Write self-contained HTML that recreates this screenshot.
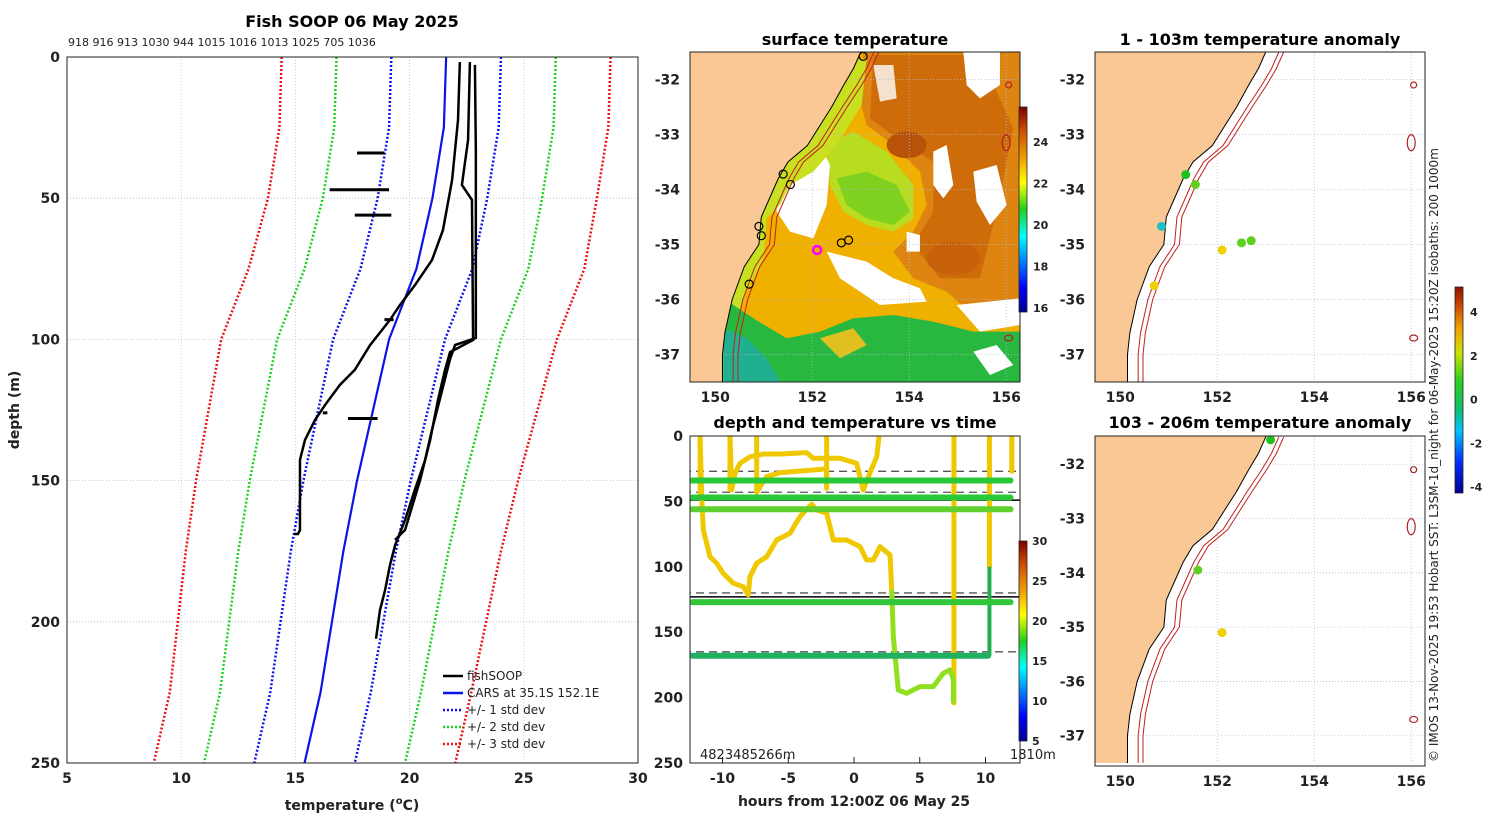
<!DOCTYPE html>
<html><head><meta charset="utf-8">
<style>
html,body{margin:0;padding:0;background:#fff;}
svg{display:block;font-family:"DejaVu Sans","Liberation Sans",sans-serif;}
.t{font-weight:bold;font-size:16px;}
.k{font-weight:bold;font-size:14px;fill:#222;}
.s{font-size:11px;fill:#222;}
</style></head>
<body>
<svg id="fig" width="1500" height="820" viewBox="0 0 1500 820" xmlns="http://www.w3.org/2000/svg">
<defs>
<linearGradient id="jet" x1="0" y1="1" x2="0" y2="0">
<stop offset="0" stop-color="#00008f"/><stop offset="0.12" stop-color="#0000ff"/><stop offset="0.37" stop-color="#00ffff"/><stop offset="0.5" stop-color="#20d020"/><stop offset="0.63" stop-color="#ffff00"/><stop offset="0.75" stop-color="#f0a000"/><stop offset="0.88" stop-color="#d05000"/><stop offset="1" stop-color="#800000"/>
</linearGradient>
<linearGradient id="jet2" x1="0" y1="1" x2="0" y2="0">
<stop offset="0" stop-color="#00008f"/><stop offset="0.15" stop-color="#0030ff"/><stop offset="0.3" stop-color="#00c0ff"/><stop offset="0.42" stop-color="#10c060"/><stop offset="0.55" stop-color="#30d020"/><stop offset="0.68" stop-color="#d0e000"/><stop offset="0.8" stop-color="#f0a000"/><stop offset="0.92" stop-color="#c84000"/><stop offset="1" stop-color="#901000"/>
</linearGradient>
<clipPath id="c1"><rect x="67" y="57" width="571" height="706"/></clipPath>
<clipPath id="c2"><rect x="690" y="52" width="330" height="330"/></clipPath>
<clipPath id="c3"><rect x="690" y="436" width="330" height="327"/></clipPath>
<clipPath id="c4"><rect x="1095" y="52" width="330" height="330"/></clipPath>
<clipPath id="c5"><rect x="1095" y="436" width="330" height="327"/></clipPath>
</defs>

<text class="t" x="352" y="27" text-anchor="middle">Fish SOOP 06 May 2025</text>
<text class="s" x="68" y="46">918 916 913 1030 944 1015 1016 1013 1025 705 1036</text>
<g id="p1grid"></g>
<g id="p1" clip-path="url(#c1)"></g>
<rect x="67" y="57" width="571" height="706" fill="none" stroke="#222"/>
<g id="p1ticks"></g>
<text class="k" x="352" y="810" text-anchor="middle" font-size="16">temperature (<tspan font-size="10" dy="-6">o</tspan><tspan dy="6">C)</tspan></text>
<text class="k" x="19" y="410" text-anchor="middle" transform="rotate(-90 19 410)" font-size="16">depth (m)</text>
<g id="legend"></g>

<text class="t" x="855" y="45" text-anchor="middle">surface temperature</text>
<g clip-path="url(#c2)">
<rect x="690" y="52" width="330" height="330" fill="#f0b000"/>
<g transform="translate(680,45) scale(0.3333)">
<path d="M550,20 L1020,20 L1020,830 L900,830 L800,740 L700,700 L640,620 L700,560 L740,480 L720,380 L640,300 L560,240 L540,170 Z" fill="#dd8510"/>
<path d="M580,30 L900,30 L1000,250 L950,500 L900,700 L780,700 L700,600 L760,500 L760,350 L650,280 L570,220 Z" fill="#cf6c0a"/>
<ellipse cx="680" cy="300" rx="60" ry="40" fill="#b85208"/>
<ellipse cx="820" cy="640" rx="80" ry="50" fill="#c8620a"/>
<path d="M440,300 L520,260 L620,320 L700,420 L700,520 L640,560 L560,540 L490,500 L450,420 Z" fill="#b8dc20"/>
<path d="M470,400 L560,380 L650,420 L690,500 L640,540 L560,520 L500,480 Z" fill="#80d020"/>
<path d="M300,360 L420,300 L450,360 L440,480 L400,580 L330,560 L290,500 Z" fill="#fff"/>
<path d="M440,620 L560,650 L640,700 L720,730 L740,770 L600,780 L480,700 Z" fill="#fff"/>
<path d="M680,560 L720,570 L720,620 L680,620 Z" fill="#fff"/>
<path d="M850,20 L960,20 L960,120 L900,160 L860,120 Z" fill="#fff"/>
<path d="M760,320 L800,300 L820,420 L790,460 L760,420 Z" fill="#fff"/>
<path d="M880,380 L950,360 L980,480 L930,540 L890,470 Z" fill="#fff"/>
<path d="M580,60 L640,60 L650,160 L600,170 Z" fill="#fff" opacity="0.8"/>
<path d="M830,780 L1020,760 L1020,840 L900,860 Z" fill="#fff"/>
<path d="M420,60 L560,40 L545,180 L470,300 L400,380 L330,420 L300,480 L260,520 L250,640 L200,740 L150,870 L130,1010 L60,1010 L60,40 Z" fill="#c8e020"/>
<path d="M130,760 L220,820 L320,880 L420,860 L520,820 L640,810 L760,830 L880,860 L1020,860 L1020,1010 L130,1010 Z" fill="#28b840"/>
<path d="M130,850 L200,880 L260,940 L300,1010 L130,1010 Z" fill="#20b090"/>
<path d="M420,880 L520,850 L560,900 L480,940 Z" fill="#e0c020"/>
<path d="M880,920 L950,900 L1000,960 L930,990 Z" fill="#fff"/>
</g>
</g>
<g id="map2"></g>
<rect x="690" y="52" width="330" height="330" fill="none" stroke="#222"/>
<rect x="1019" y="107" width="8" height="205" fill="url(#jet)" stroke="#222" stroke-width="0.8"/>
<g id="cb1"></g>

<text class="t" x="855" y="428" text-anchor="middle">depth and temperature vs time</text>
<g id="p3" clip-path="url(#c3)"></g>
<rect x="690" y="436" width="330" height="327" fill="none" stroke="#222"/>
<g id="p3ticks"></g>
<text x="700" y="759" font-size="13" fill="#222">4823485266m</text>
<text x="1010" y="759" font-size="13" fill="#222">1810m</text>
<text class="k" x="854" y="806" text-anchor="middle" font-size="16">hours from 12:00Z 06 May 25</text>
<rect x="1019" y="541" width="8" height="200" fill="url(#jet)" stroke="#222" stroke-width="0.8"/>
<g id="cb3"></g>

<text class="t" x="1260" y="45" text-anchor="middle">1 - 103m temperature anomaly</text>
<text class="t" x="1260" y="428" text-anchor="middle">103 - 206m temperature anomaly</text>
<g id="map4"></g><g id="map5"></g>
<rect x="1455" y="287" width="8" height="206" fill="url(#jet2)" stroke="#222" stroke-width="0.8"/>
<g id="cb4"></g>
<text x="1438" y="762" font-size="12" fill="#222" transform="rotate(-90 1438 762)">© IMOS 13-Nov-2025 19:53 Hobart SST: L3SM-1d_night for 06-May-2025 15:20Z isobaths: 200  1000m</text>
</svg>

<script>
const cdDepths=[0,25,50,75,100,125,150,175,200,225,250];
const carsMean=[21.6,21.5,21.0,20.3,19.1,18.4,17.7,17.1,16.6,16.1,15.4];
const carsStd=[2.4,2.4,2.4,2.45,2.45,2.4,2.35,2.3,2.25,2.2,2.2];
const profAtemp=[22.86,22.9,22.9,21.99,21.77,21.55,21.33,20.98,20.67,20.24,19.8,19.36,19.14,18.92,18.7,18.53];
const profAdepth=[2.8,32.9,99.5,102,107,114,121,132,143,153,164,173,180,189,196,206];
const profBtemp=[22.2,22.12,21.86,21.46,20.98,20.24,19.58,19.14,18.27,17.6,16.95,16.3,15.86,15.42,15.2,15.2,15.11,14.94];
const profBdepth=[1.8,22.3,43.6,61.3,71.9,80.7,87.8,93.1,102,110.8,116.1,123.2,128.5,135.6,142.7,167.5,168.9,168.9];
const profCtemp=[22.64,22.56,22.29,22.73,22.78,21.77,21.55,21.24,20.9,20.46,19.8,19.36];
const profCdepth=[1.8,29.4,45.3,50.6,100.2,104.5,110.8,121.5,135.6,149.8,167.5,171];
const segDepth=[34,47,56,93,126,128];
const segT0=[17.7,16.5,17.6,18.9,16.2,17.3];
const segT1=[18.9,19.1,19.2,19.3,16.4,18.6];
const tTicks=[5,10,15,20,25,30];
const dTicks=[0,50,100,150,200,250];

const NS='http://www.w3.org/2000/svg';
function mk(tag,attrs,parent){const e=document.createElementNS(NS,tag);for(const k in attrs)e.setAttribute(k,attrs[k]);parent.appendChild(e);return e;}
const X1=t=>67+(t-5)*(571/25), Y1=d=>57+d*(706/250);
const g1=document.getElementById('p1'), g1g=document.getElementById('p1grid'), g1t=document.getElementById('p1ticks');
tTicks.forEach(t=>{
  const l=mk('line',{x1:X1(t),x2:X1(t),y1:57,y2:763,stroke:'#b0bcd8','stroke-dasharray':'1,2','stroke-width':0.8},g1g);
  
  
  const tx=mk('text',{x:X1(t),y:783,'text-anchor':'middle',class:'k'},g1t);tx.textContent=t;
  
  
});
dTicks.forEach(d=>{
  const l=mk('line',{x1:67,x2:638,y1:Y1(d),y2:Y1(d),stroke:'#b0bcd8','stroke-dasharray':'1,2','stroke-width':0.8},g1g);
  
  
  const tx=mk('text',{x:60,y:Y1(d)+5,'text-anchor':'end',class:'k'},g1t);tx.textContent=d;
  
  
});
function poly(ts,ds,X,Y,attrs,parent,name){
  const p=mk('polyline',Object.assign({points:ts.map((t,i)=>X(t)+','+Y(ds[i])).join(' '),fill:'none'},attrs),parent);
  
  
  return p;
}
const stdCols={1:'#1010ee',2:'#20d020',3:'#ee1010'};
[3,2,1].forEach(k=>{
  [-1,1].forEach(s=>{
    poly(carsMean.map((m,i)=>m+s*k*carsStd[i]),cdDepths,X1,Y1,{stroke:stdCols[k],'stroke-width':2.5,'stroke-dasharray':'2,2'},g1,'std-dev-'+k+(s<0?'-lower':'-upper'));
  });
});
poly(carsMean,cdDepths,X1,Y1,{stroke:'#0a14e6','stroke-width':2.2},g1,'cars-mean-line');
poly(profAtemp,profAdepth,X1,Y1,{stroke:'#000','stroke-width':2.5},g1,'fishsoop-profile-a');
poly(profBtemp,profBdepth,X1,Y1,{stroke:'#000','stroke-width':2.5},g1,'fishsoop-profile-b');
poly(profCtemp,profCdepth,X1,Y1,{stroke:'#000','stroke-width':2.5},g1,'fishsoop-profile-c');
segDepth.forEach((d,i)=>{poly([segT0[i],segT1[i]],[d,d],X1,Y1,{stroke:'#000','stroke-width':3},g1,'fishsoop-short-profile');});
const leg=document.getElementById('legend');
const legItems=[['fishSOOP','#000',''],['CARS at 35.1S 152.1E','#0a14e6',''],['+/- 1 std dev','#1010ee','2,2'],['+/- 2 std dev','#20d020','2,2'],['+/- 3 std dev','#ee1010','2,2']];
legItems.forEach((it,i)=>{
  const y=676+i*17;
  const l=mk('line',{x1:443,x2:463,y1:y,y2:y,stroke:it[1],'stroke-width':2.5},leg);
  if(it[2])l.setAttribute('stroke-dasharray',it[2]);
  
  
  const t=mk('text',{x:467,y:y+4,'font-size':12,fill:'#222'},leg);t.textContent=it[0];
  
  
});

const hTicks=[-10,-5,0,5,10];
const X3=t=>854+t*13.15, Y3=d=>436+d*1.308;
const levDepth=[34,47,56,127,168];
const levStart=[-12.3,-12.3,-12.3,-12.3,-12.3];
const levEnd=[11.9,11.9,11.9,11.9,10.2];
const levColor=['#28c838','#28c838','#60d030','#30c838','#20b060'];
const dashDepth=[27,43,120,165];
const solidDepth=[49,123];
const tr1t=[-9.43,-9.3,-9.05,-8.67,-7.9,-6.9,-5.6,-3.6,-3.1,-2.08,-1.06,0.2,0.7,1.2,1.73,1.9];
const tr1d=[0.5,41.3,28.5,20.9,15.8,13.8,13.8,12.7,17,17,17,20.9,41.3,28.5,15.8,0.5];
const tr2t=[-11.71,-11.58,-11.46,-10.95,-10.44,-9.94,-9.18,-8.42,-8.04,-7.91,-7.4,-6.64,-5.88,-4.87,-4.11,-3.22,-2.85,-2.08,-1.57,-0.56,0.46,0.96,1.47,1.98,2.74,2.87];
const tr2d=[0.5,46.4,71.8,92.3,97.3,105,112.6,115.2,121.5,107.6,97.3,92.3,79.5,74.4,61.7,52,56.6,59.1,79.5,79.5,84.6,94.8,94.8,84.6,91,117.7];
const tr3t=[2.87,2.99,3.37,4.0,5.02,6.03,6.79,7.3,7.56,7.56];
const tr3d=[117.7,153.4,194.2,196.7,191.6,191.6,181.4,178.8,186.5,204.3];
const tr4t=[-7.4,-7.4,-6.64,-5.6,-3.1,-2.08,-2.08];
const tr4d=[0.5,43,31,28,26,25,39];
const vertT=[-11.7,-9.43,-2.08,7.6,10.3,12.0];
const vertD0=[0,0,0,0,0,0];
const vertD1=[46,41,40,204,100,27];
const g3=document.getElementById('p3'), g3t=document.getElementById('p3ticks');
hTicks.forEach(t=>{
  const l=mk('line',{x1:X3(t),x2:X3(t),y1:757,y2:763,stroke:'#222'},g3t);
  
  
  const tx=mk('text',{x:X3(t),y:783,'text-anchor':'middle',class:'k'},g3t);tx.textContent=t;
  
  
});
dTicks.forEach(d=>{
  const tx=mk('text',{x:683,y:Y3(d)+5,'text-anchor':'end',class:'k'},g3t);tx.textContent=d;
  
  
});
dashDepth.forEach(d=>{poly([-13,13],[d,d],X3,Y3,{stroke:'#555','stroke-width':1.3,'stroke-dasharray':'8,5'},g3,'dashed-depth-line');});
solidDepth.forEach(d=>{poly([-13,13],[d,d],X3,Y3,{stroke:'#000','stroke-width':1.5},g3,'solid-depth-line');});
vertT.forEach((t,i)=>{poly([t,t],[vertD0[i],vertD1[i]],X3,Y3,{stroke:'#f0c800','stroke-width':5,'stroke-linecap':'round'},g3,'vertical-cast');});
poly([10.3,10.3,10.3],[100,168,168],X3,Y3,{stroke:'#20b050','stroke-width':4},g3,'vertical-cast-deep');
poly(tr1t,tr1d,X3,Y3,{stroke:'#f0c800','stroke-width':5,'stroke-linejoin':'round'},g3,'trace-upper');
poly(tr4t,tr4d,X3,Y3,{stroke:'#f0c800','stroke-width':5,'stroke-linejoin':'round'},g3,'trace-mid');
poly(tr2t,tr2d,X3,Y3,{stroke:'#f0c800','stroke-width':5,'stroke-linejoin':'round'},g3,'trace-lower');
poly(tr3t,tr3d,X3,Y3,{stroke:'#90e020','stroke-width':5,'stroke-linejoin':'round'},g3,'trace-deep');
levDepth.forEach((d,i)=>{poly([levStart[i],levEnd[i]],[d,d],X3,Y3,{stroke:levColor[i],'stroke-width':6,'stroke-linecap':'round'},g3,'depth-level-track');});

function cbLabels(id,vals,y0,y1,v0,v1,x){
  const g=document.getElementById(id);
  vals.forEach(v=>{const y=y0+(v-v0)/(v1-v0)*(y1-y0);
    const t=mk('text',{x:x,y:y+4,'font-size':11,'font-weight':'bold',fill:'#222'},g);t.textContent=v;
    
    });
}
const sstCb=[16,18,20,22,24], timeCb=[5,10,15,20,25,30], anomCb=[-4,-2,0,2,4];
cbLabels('cb1',sstCb,308,142,16,24,1033);
cbLabels('cb3',timeCb,741,541,5,30,1032);
cbLabels('cb4',anomCb,487,312,-4,4,1470);

const coastLon=[153.0,152.85,152.65,152.4,152.15,151.9,151.5,151.3,151.15,150.95,150.9,150.6,150.35,150.2,150.15,150.15];
const coastLat=[-31.5,-31.8,-32.1,-32.5,-32.85,-33.2,-33.5,-33.8,-34.1,-34.5,-35.0,-35.4,-36.0,-36.6,-37.0,-37.5];
const lonTicks=[150,152,154,156], latTicks=[-32,-33,-34,-35,-36,-37];
const anomLon1=[151.35,151.55,150.85,152.1,152.5,152.7,150.7];
const anomLat1=[-33.73,-33.91,-34.67,-35.1,-34.97,-34.93,-35.75];
const anomVal1=[0.3,0.5,-1.0,2.2,1.2,0.9,2.4];
const anomLon2=[153.1,151.6,152.1];
const anomLat2=[-31.55,-33.95,-35.1];
const anomVal2=[0.4,0.5,2.0];
const castLon=[153.05,151.4,151.55,150.9,150.95,152.6,152.75,150.7];
const castLat=[-31.58,-33.72,-33.91,-34.67,-34.84,-34.97,-34.92,-35.72];
function anomColor(v){const stops=[[-4,'#00008f'],[-2,'#0040ff'],[-1,'#20c0c0'],[0,'#20c020'],[1,'#60d020'],[2,'#f0d000'],[3,'#f09000'],[4,'#c02000']];
  for(let i=1;i<stops.length;i++)if(v<=stops[i][0])return (v-stops[i-1][0])<(stops[i][0]-v)?stops[i-1][1]:stops[i][1];return stops[stops.length-1][1];}
function drawMap(id,ox,oy,lat0,pxLat,clip,sst){
  const g=document.getElementById(id);
  const X=l=>ox+(l-149.48)*48.5, Y=la=>oy+(lat0-la)*pxLat;
  const c=mk('g',{'clip-path':'url(#'+clip+')'},g);
  
  
  if(!sst){mk('rect',{x:ox,y:oy,width:330,height:330,fill:'#fff'},c);}
  lonTicks.forEach(l=>mk('line',{x1:X(l),x2:X(l),y1:oy,y2:oy+330,stroke:'#b0bcd8','stroke-dasharray':'1,2','stroke-width':0.8},c));
  latTicks.forEach(l=>mk('line',{x1:ox,x2:ox+330,y1:Y(l),y2:Y(l),stroke:'#b0bcd8','stroke-dasharray':'1,2','stroke-width':0.8},c));
  let pts=coastLon.map((l,i)=>X(l)+','+Y(coastLat[i]));
  const land=mk('polygon',{points:ox+','+(oy-5)+' '+X(coastLon[0]+0.05)+','+(oy-5)+' '+pts.join(' ')+' '+ox+','+(oy+340),fill:'#f9c895',stroke:'#000','stroke-width':1},c);
  
  
  [0.22,0.32].forEach(off=>{
    const iso=mk('polyline',{points:coastLon.map((l,i)=>X(l+off+(i<3?0.05:0))+','+Y(coastLat[i])).join(' '),fill:'none',stroke:'#c02020','stroke-width':1},c);
    
    
  });
  [[156.0,-33.15,4,8],[156.05,-36.7,4,3],[156.05,-32.1,3,3]].forEach(s=>{
    const e=mk('ellipse',{cx:X(s[0]),cy:Y(s[1]),rx:s[2],ry:s[3],fill:'none',stroke:'#b02020','stroke-width':1.2},c);
    
    
  });
  mk('rect',{x:ox,y:oy,width:330,height:330,fill:'none',stroke:'#222'},g);
  lonTicks.forEach(l=>{const t=mk('text',{x:X(l),y:oy+350,'text-anchor':'middle',class:'k'},g);t.textContent=l;
    
    });
  latTicks.forEach(l=>{const t=mk('text',{x:ox-10,y:Y(l)+5,'text-anchor':'end',class:'k'},g);t.textContent=l;
    
    });
  return {g:c,X:X,Y:Y};
}
const m2=drawMap('map2',690,52,-31.5,55,'c2',true);
castLon.forEach((l,i)=>{const c=mk('circle',{cx:m2.X(l),cy:m2.Y(castLat[i]),r:4,fill:'none',stroke:'#000','stroke-width':1.2},m2.g);
  
  });
const sel=mk('circle',{cx:m2.X(152.1),cy:m2.Y(-35.1),r:4,fill:'none',stroke:'#ff00ff','stroke-width':2.5},m2.g);


const m4=drawMap('map4',1095,52,-31.5,55,'c4',false);
anomLon1.forEach((l,i)=>{const c=mk('circle',{cx:m4.X(l),cy:m4.Y(anomLat1[i]),r:4.5,fill:anomColor(anomVal1[i])},m4.g);
  
  });
const m5=drawMap('map5',1095,436,-31.48,54.3,'c5',false);
anomLon2.forEach((l,i)=>{const c=mk('circle',{cx:m5.X(l),cy:m5.Y(anomLat2[i]),r:4.5,fill:anomColor(anomVal2[i])},m5.g);
  
  });
</script>
</body></html>
